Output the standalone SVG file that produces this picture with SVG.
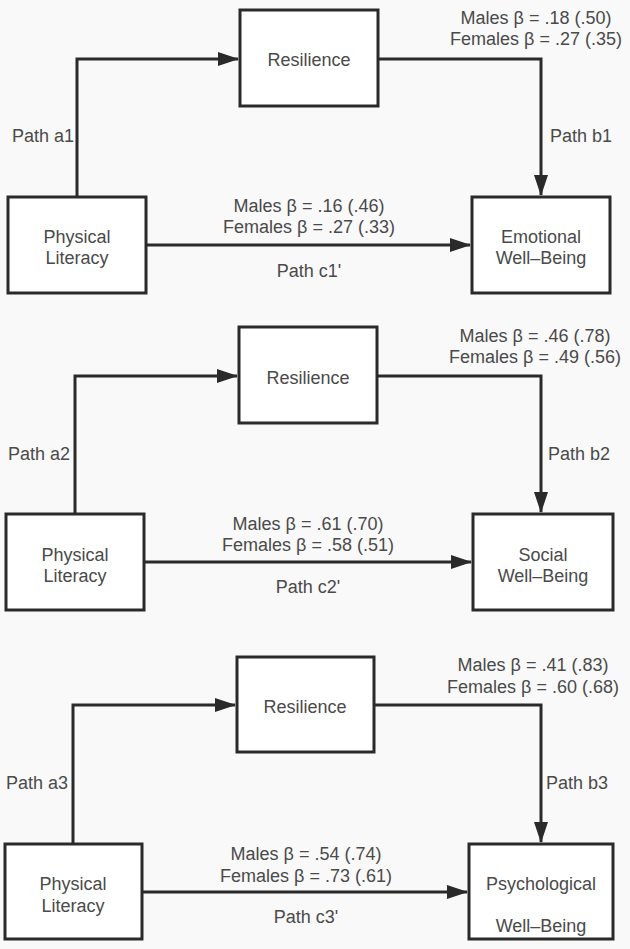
<svg xmlns="http://www.w3.org/2000/svg" width="630" height="949" viewBox="0 0 630 949">
<style>
.bg{fill:#f9f9f9}
.box{fill:#ffffff;stroke:#2a2a2a;stroke-width:3}
.ln{fill:none;stroke:#2a2a2a;stroke-width:3}
text{font-family:"Liberation Sans",Arial,sans-serif;font-size:18px;fill:#4a4a4a}
.m{text-anchor:middle}
</style>
<defs>
<marker id="ah" markerUnits="userSpaceOnUse" markerWidth="21" markerHeight="14" refX="20" refY="7" orient="auto">
<polygon points="0,0 21,7 0,14" fill="#2a2a2a"/>
</marker>
</defs>
<rect class="bg" x="0" y="0" width="630" height="949"/>

<g id="connectors">
<path class="ln" d="M77,197 V59 H238" marker-end="url(#ah)"/>
<path class="ln" d="M378,59 H541 V195" marker-end="url(#ah)"/>
<path class="ln" d="M146,245 H470" marker-end="url(#ah)"/>

<path class="ln" d="M75,514 V376 H237" marker-end="url(#ah)"/>
<path class="ln" d="M377,376 H541 V512" marker-end="url(#ah)"/>
<path class="ln" d="M144,562 H471" marker-end="url(#ah)"/>

<path class="ln" d="M73,844 V705 H235" marker-end="url(#ah)"/>
<path class="ln" d="M374,705 H541 V842" marker-end="url(#ah)"/>
<path class="ln" d="M142,892 H467" marker-end="url(#ah)"/>
</g>

<g id="labels">
<text class="m" x="536" y="24">Males β = .18 (.50)</text>
<text class="m" x="536" y="45">Females β = .27 (.35)</text>
<text x="12" y="142">Path a1</text>
<text x="550" y="142">Path b1</text>
<text class="m" x="309" y="212">Males β = .16 (.46)</text>
<text class="m" x="309" y="233">Females β = .27 (.33)</text>
<text class="m" x="309" y="277">Path c1'</text>

<text class="m" x="535" y="342">Males β = .46 (.78)</text>
<text class="m" x="535" y="363">Females β = .49 (.56)</text>
<text x="8" y="460">Path a2</text>
<text x="548" y="460">Path b2</text>
<text class="m" x="308" y="530">Males β = .61 (.70)</text>
<text class="m" x="308" y="551">Females β = .58 (.51)</text>
<text class="m" x="308" y="593">Path c2'</text>

<text class="m" x="533" y="671">Males β = .41 (.83)</text>
<text class="m" x="533" y="693">Females β = .60 (.68)</text>
<text x="6" y="789">Path a3</text>
<text x="546" y="789">Path b3</text>
<text class="m" x="306" y="860">Males β = .54 (.74)</text>
<text class="m" x="306" y="882">Females β = .73 (.61)</text>
<text class="m" x="306" y="923">Path c3'</text>
</g>

<g id="resilience1"><rect class="box" x="240" y="10" width="138" height="96"/><text class="m" x="309" y="66">Resilience</text></g>
<g id="physical1"><rect class="box" x="8" y="197" width="138" height="96"/><text class="m" x="77" y="243">Physical</text><text class="m" x="77" y="264">Literacy</text></g>
<g id="emotional"><rect class="box" x="472" y="197" width="138" height="96"/><text class="m" x="541" y="243">Emotional</text><text class="m" x="541" y="264">Well–Being</text></g>

<g id="resilience2"><rect class="box" x="239" y="327" width="138" height="96"/><text class="m" x="308" y="384">Resilience</text></g>
<g id="physical2"><rect class="box" x="6" y="514" width="138" height="96"/><text class="m" x="75" y="561">Physical</text><text class="m" x="75" y="582">Literacy</text></g>
<g id="social"><rect class="box" x="473" y="514" width="140" height="96"/><text class="m" x="543" y="561">Social</text><text class="m" x="543" y="582">Well–Being</text></g>

<g id="resilience3"><rect class="box" x="237" y="657" width="137" height="95"/><text class="m" x="305" y="713">Resilience</text></g>
<g id="physical3"><rect class="box" x="5" y="844" width="137" height="95"/><text class="m" x="73" y="890">Physical</text><text class="m" x="73" y="912">Literacy</text></g>
<g id="psychological"><rect class="box" x="469" y="844" width="144" height="95"/><text class="m" x="541" y="890">Psychological</text><text class="m" x="541" y="932">Well–Being</text></g>
</svg>
